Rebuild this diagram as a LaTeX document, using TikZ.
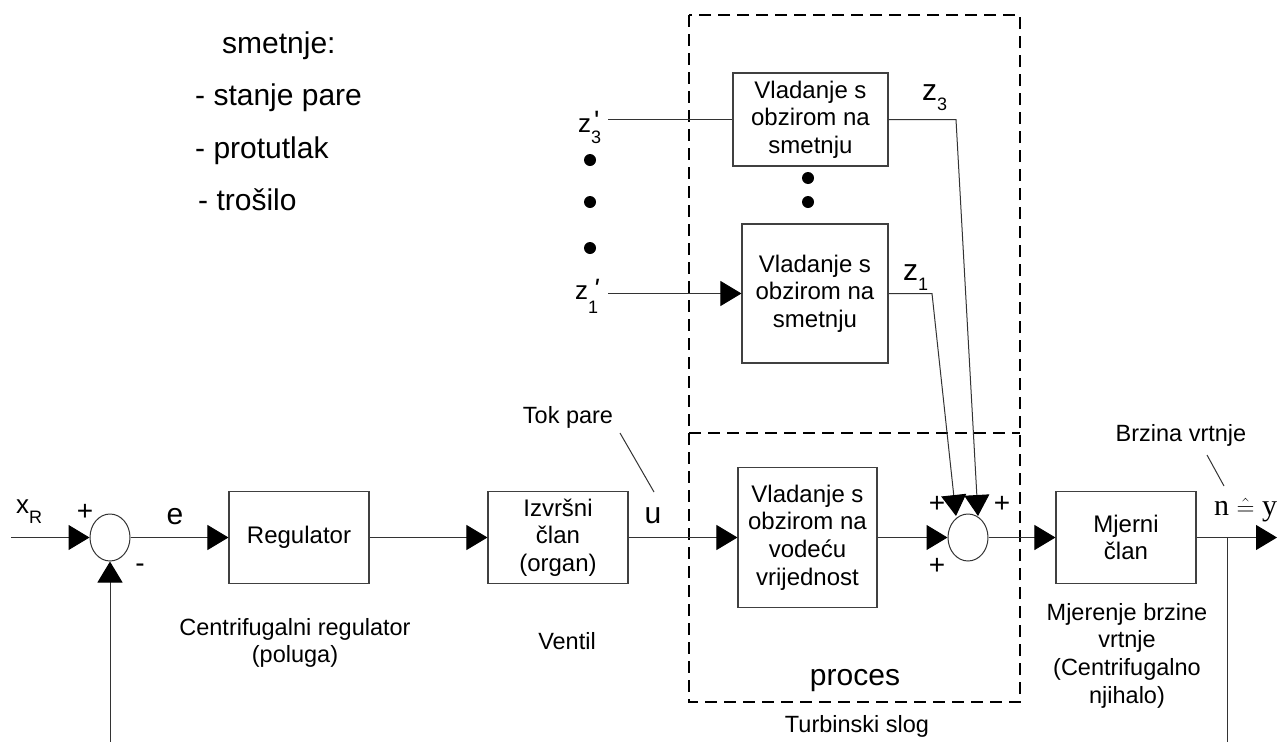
\documentclass[tikz,border=0pt]{standalone}
\usepackage{fontspec}
\setmainfont{Liberation Sans}
\newfontfamily\seriffont{Liberation Serif}
\usetikzlibrary{arrows.meta,shapes.geometric}
\newcommand{\fsz}[1]{\fontsize{#1}{#1}\selectfont}
\begin{document}
\begin{tikzpicture}[x=1pt,y=-1pt,
  blk/.style={draw=black!75, line width=1.1pt, inner sep=0pt, align=center,
     font=\fontsize{24}{27.7}\selectfont},
  sumnode/.style={ellipse, draw=black!80, line width=1pt, minimum width=40pt,
     minimum height=47pt, inner sep=0pt},
  con/.style={draw=black!80, line width=1pt},
  arr/.style={con, -{Triangle[length=21pt,width=25pt,color=black]}},
  dashbox/.style={draw=black, line width=1.6pt, dash pattern=on 12pt off 7pt},
  lbl/.style={inner sep=0pt, anchor=base},
  lblw/.style={inner sep=0pt, anchor=base west},
  sgn/.style={inner sep=0pt, font=\fsz{28}},
  dotmark/.style={fill=black}
]
\useasboundingbox (0,0) rectangle (1278,742);

% process frame
\draw[dashbox] (689,15) rectangle (1020,702);
\draw[dashbox] (689,433) -- (1020,433);

% blocks
\node[sumnode] (s1) at (110,537.5) {};
\node[blk, minimum width=140pt, minimum height=92pt] (reg) at (299,537.5) {Regulator};
\node[blk, minimum width=140pt, minimum height=92pt] (izv) at (558,537.5) {Izvršni\\član\\(organ)};
\node[blk, minimum width=139pt, minimum height=140pt] (vod) at (807.5,537.5) {Vladanje s\\obzirom na\\vodeću\\vrijednost};
\node[sumnode] (s2) at (968,537.5) {};
\node[blk, minimum width=140pt, minimum height=92pt] (mj) at (1126,537.5) {Mjerni\\član};
\node[blk, minimum width=155pt, minimum height=93pt] (b3) at (810.5,119.5) {Vladanje s\\obzirom na\\smetnju};
\node[blk, minimum width=146pt, minimum height=139pt] (b1) at (815,293.5) {Vladanje s\\obzirom na\\smetnju};

% coordinates
\coordinate (xin) at (11,537.5);
\coordinate (fb) at (110,742);
\coordinate (out) at (1277,537.5);
\coordinate (br) at (1227,537.5);
\coordinate (brd) at (1227,742);
\coordinate (z3in) at (608,119.5);
\coordinate (z1in) at (608,293.5);
\coordinate (k3) at (956,119.5);
\coordinate (k1) at (932,293.5);
\coordinate (t1) at (956,516);
\coordinate (t3) at (978,516);
\coordinate (tokA) at (620,433);
\coordinate (tokB) at (654,492);
\coordinate (brzA) at (1207,455);
\coordinate (brzB) at (1224,486);

% connectors
\draw[arr] (xin) -- (s1.west);
\draw[arr] (s1.east) -- (reg.west);
\draw[arr] (reg.east) -- (izv.west);
\draw[arr] (izv.east) -- (vod.west);
\draw[arr] (vod.east) -- (s2.west);
\draw[arr] (s2.east) -- (mj.west);
\draw[arr] (mj.east) -- (out);
\draw[con] (br) -- (brd);
\draw[arr] (fb) -- (s1.south);
\draw[con] (z3in) -- (b3.west);
\draw[arr] (z1in) -- (b1.west);
\draw[arr] (b3.east) -- (k3) -- (t3);
\draw[arr] (b1.east) -- (k1) -- (t1);
\draw[con] (tokA) -- (tokB);
\draw[con] (brzA) -- (brzB);

% dots
\fill[dotmark] (590,160) circle (6);
\fill[dotmark] (590,202) circle (6);
\fill[dotmark] (590,248) circle (6);
\fill[dotmark] (808,178) circle (6);
\fill[dotmark] (808,202) circle (6);

% signs
\node[sgn] (p1) at (85,512) {+};
\node[sgn] (m1) at (140,568) {-};
\node[sgn] (p2) at (937,504) {+};
\node[sgn] (p3) at (1002,504) {+};
\node[sgn] (p4) at (937,566) {+};

% signal labels
\node[lblw] (lxr) at (16,513) {\fsz{26}x\raisebox{-10pt}{\fsz{18}R}};
\node[lbl, font=\fsz{30}] (le) at (175,524) {e};
\node[lbl, font=\fsz{30}] (lu) at (653,523) {u};
\node[lblw] (lz3) at (922,100) {\fsz{30}z\raisebox{-10pt}{\fsz{18}3}};
\node[lblw] (lz1) at (903,280) {\fsz{30}z\raisebox{-10pt}{\fsz{18}1}};
\node[lblw] (lz3p) at (578,132) {\fsz{26}z\rlap{\raisebox{-11pt}{\fsz{18}3}}\hspace{3pt}\raisebox{2pt}{\fsz{28}\textquotesingle}};
\node[lblw] (lz1p) at (575,299) {\fsz{26}z\rlap{\raisebox{-14pt}{\fsz{18}1}}\hspace{5pt}\raisebox{1pt}{\fsz{28}\itshape\textquotesingle}};
\node[lblw] (lny) at (1214,515) {\seriffont\fsz{30}n $\hat{=}$ y};

% annotations
\node[lblw, font=\fsz{30}] (sm0) at (222,53) {smetnje:};
\node[lblw, font=\fsz{30}] (sm1) at (195,105) {- stanje pare};
\node[lblw, font=\fsz{30}] (sm2) at (195,158) {- protutlak};
\node[lblw, font=\fsz{30}] (sm3) at (198,210) {- trošilo};

\node[lbl, font=\fsz{23.5}] (tok) at (568,423) {Tok pare};
\node[lbl, font=\fsz{23.5}] (ven) at (567,649) {Ventil};
\node[lbl, font=\fsz{23.5}] (cr1) at (295,635) {Centrifugalni regulator};
\node[lbl, font=\fsz{23.5}] (cr2) at (295,662) {(poluga)};
\node[lbl, font=\fsz{23.5}] (brz) at (1181,441) {Brzina vrtnje};
\node[lbl, font=\fsz{23.5}] (mb1) at (1127,620) {Mjerenje brzine};
\node[lbl, font=\fsz{23.5}] (mb2) at (1127,647) {vrtnje};
\node[lbl, font=\fsz{23.5}] (mb3) at (1127,675) {(Centrifugalno};
\node[lbl, font=\fsz{23.5}] (mb4) at (1127,703) {njihalo)};
\node[lbl, font=\fsz{30}] (proc) at (855,685) {proces};
\node[lbl, font=\fsz{23.5}] (turb) at (857,732) {Turbinski slog};
\end{tikzpicture}
\end{document}
